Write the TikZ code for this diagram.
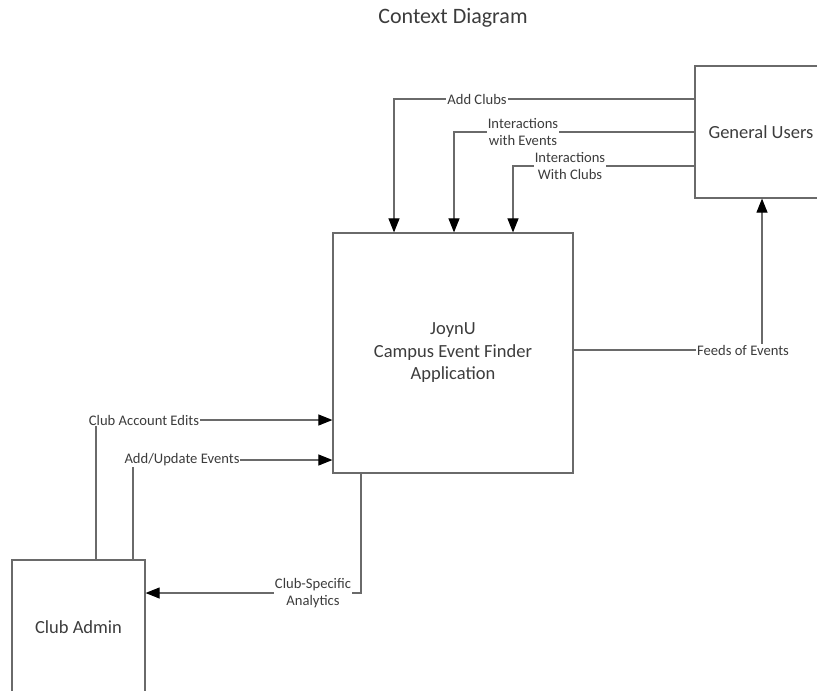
\documentclass[tikz,border=0pt]{standalone}
\usepackage{fontspec}
\setmainfont{Carlito}
\usetikzlibrary{arrows.meta}
\definecolor{ink}{HTML}{3C3C3C}
\definecolor{wire}{HTML}{6A6A6A}
\begin{document}
\begin{tikzpicture}[x=1pt,y=-1pt,
  box/.style={draw=wire, line width=1.2pt, text=ink, align=center, inner sep=0pt,
    font=\fontsize{18.5}{22.5}\selectfont},
  flow/.style={draw=wire, line width=1.1pt,
    -{Triangle[length=14pt,width=11pt,color=black]}},
  lbl/.style={fill=white, text=ink, align=center, inner sep=1pt,
    font=\fontsize{14.6}{17}\selectfont},
  heading/.style={text=ink, font=\fontsize{22}{26}\selectfont}]
\useasboundingbox (0,0) rectangle (817,691);
\clip (0,0) rectangle (817,691);

% title
\node[heading] (title) at (453,18) {Context Diagram};

% process and external entities
\node[box, minimum width=240pt, minimum height=240pt] (main) at (453,353)
  {JoynU\\Campus Event Finder\\Application};
\node[box, minimum width=132pt, minimum height=132pt] (gu) at (761,132) {General Users};
\node[box, minimum width=133pt, minimum height=134pt] (ca) at (78.5,627) {Club Admin};

% flows from General Users
\draw[flow] (gu.west |- 0,99) -| (main.north -| 394,0);
\draw[flow] (gu.west |- 0,132) -| (main.north -| 454,0);
\draw[flow] (gu.west |- 0,166) -| (main.north -| 513,0);
\node[lbl] (l1) at (477,99) {Add Clubs};
\node[lbl] (l2) at (523,132) {Interactions\\with Events};
\node[lbl] (l3) at (570,166) {Interactions\\With Clubs};

% flow to General Users
\draw[flow] (main.east |- 0,350) -| (gu.south -| 762,0);
\node[lbl] (l4) at (743,350) {Feeds of Events};

% flows from Club Admin
\draw[flow] (ca.north -| 96,0) |- (main.west |- 0,420);
\draw[flow] (ca.north -| 133,0) |- (main.west |- 0,460);
\node[lbl] (l5) at (144,420) {Club Account Edits};
\node[lbl] (l6) at (182,460) {Add/Update Events};

% flow to Club Admin
\draw[flow] (main.south -| 361,0) |- (ca.east |- 0,593);
\node[lbl] (l7) at (313,593) {Club-Specific\\Analytics};
\end{tikzpicture}
\end{document}
